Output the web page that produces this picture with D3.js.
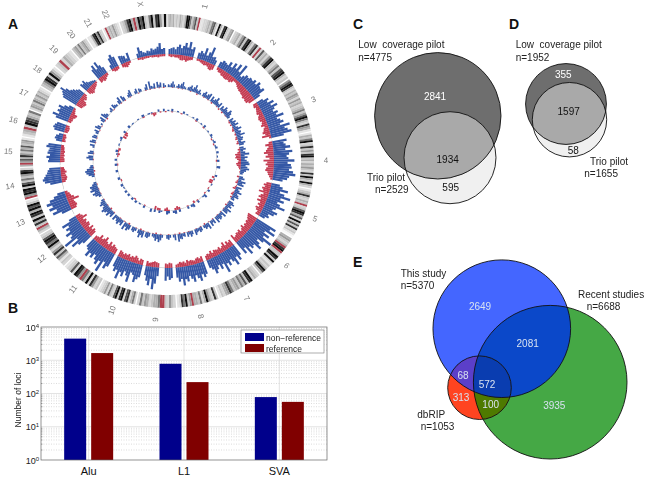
<!DOCTYPE html>
<html><head><meta charset="utf-8">
<script src="https://cdnjs.cloudflare.com/ajax/libs/d3/7.8.5/d3.min.js"></script>
<style>html,body{margin:0;background:#fff}svg{display:block}text{font-family:"Liberation Sans",Arial,sans-serif;white-space:pre}</style>
</head><body><svg id="c" width="650" height="480"></svg>
<script>
const chromNames=["1","2","3","4","5","6","7","8","9","10","11","12","13","14","15","16","17","18","19","20","21","22","X"];
const chromSizes=[27,27.9,22,22,20,18.5,18,16.5,15.5,15.5,15.5,15,14,12.5,11.5,10.5,9.5,9,8.5,7,6.5,6.5,18.5];
const ideogramBands=[
"343423243249963573r1122343673194189324 5","23425738942 682r27342589324637894 23","5798324354253423463579632 8541","14369238353893424353283943942","13483243r23798472937382310","453 24r89r33983921324973","234298374635436854231","382359426344r5396821","2352 3rr6443245362","26428729839723625321","32582936r589273 21","23147385249689732","24r3849389497931","r5989397363598 2","4r574853647345 1","134r3987436","254364353421","3469839531","23r24321","3453634532","114895832","1r3435321","23589 4r497932693895 29"].map(s=>s.replace(/ /g,""));
const t1Blue=[[6,7,8,6,9,12,8,11,15,10,17,9,12,0,0,7,10,8,15,7,12,19,8,9,6],[7,10,9,8,13,8,15,10,17,9,20,6,9,12,11,13,12,15,12,17,14,13,16,8],[8,14,11,18,13,20,15,12,17,14,22,13,16,19,14,25,18,21,25,15],[17,13,15,20,14,22,18,15,17,24,16,20,21,18,23,26,19,17,12],[10,14,21,12,18,26,15,20,13,17,24,14,11,18,15,9,11,7],[26,20,28,16,24,18,31,22,15,20,25,16,18,14,22,11,17],[14,19,13,22,16,12,18,14,24,12,17,11,15,19,13,10],[15,18,14,21,17,13,20,16,12,18,15,22,14,17,12],[12,14,10,15,0,0,0,10,19,26,14,22,17,11],[15,18,22,14,12,24,17,13,20,16,25,15,18,13],[17,21,14,28,16,22,18,13,19,15,21,14,12],[12,17,24,14,30,19,16,22,15,18,13,20,9],[0,0,12,22,16,24,19,25,20,14,9],[0,0,0,14,20,22,20,18,16,15,13],[0,14,13,16,12,15,14,13,17,15],[7,9,8,5,0,12,14,13,11],[15,20,13,16,14,17,11,6],[18,20,22,26,20,15,13,10,8],[10,8,11,7,5,4,3,2],[13,17,10,18,12,8],[0,5,13,16,12],[10,9,8,4,10],[0,0,5,12,7,5,4,6,5,8,6,7,9,13,6,7]];
const t1Red=[[3,4,3,4,4,5,7,7,6,8,6,5,4,0,0,3,3,4,5,6,5,6,8,9,7],[4,6,6,8,8,9,9,8,9,7,4,4,5,7,8,9,9,10,10,12,11,12,12,9],[6,7,5,6,7,8,6,8,9,8,6,7,9,5,7,8,10,7,12,3],[5,10,6,8,10,13,8,11,6,14,9,11,8,10,11,8,7,5,3],[7,10,8,11,9,14,7,10,12,8,12,7,9,6,10,8,5,6],[14,13,12,10,11,9,10,8,12,9,7,11,9,10,8,7,12],[9,7,10,6,12,8,6,9,7,8,9,6,10,7,8,6],[8,6,8,7,5,6,7,6,8,5,7,6,7,5,4],[6,7,5,6,0,0,0,6,7,8,7,6,5,7],[7,8,5,8,10,7,8,6,9,7,8,6,8,9],[8,9,11,8,12,7,9,14,10,8,12,7,6],[9,11,8,12,7,10,11,8,10,7,14,9,7],[0,0,8,10,9,8,16,10,7,6,4],[0,0,0,5,7,8,7,6,8,6,5],[0,6,6,5,6,5,6,5,5,4],[5,4,5,4,0,5,6,6,5],[5,6,6,8,9,5,4,3],[9,10,11,12,10,6,8,7,5],[7,9,10,8,7,6,5,3],[7,6,8,7,5,4],[0,3,5,5,4],[5,6,7,5,3],[0,0,3,3,4,3,3,3,2,3,3,3,4,3,3,3]];
const t2Blue=[[3,2,4,6,3,0,2,4,3,5,7,3,2,0,3,4,6,3,5,8,4,3,5,2],[4,6,3,5,7,0,6,3,5,8,4,3,6,0,5,3,7,5,4,8,6,3],[5,3,6,4,7,3,5,8,4,6,5,9,4,6,5,3,7,5],[4,6,3,5,9,4,7,4,6,8,9,5,7,9,6,4,3],[4,6,3,8,5,7,0,6,3,5,8,4,6,7,3,4],[5,7,4,6,3,8,5,6,0,7,3,5,6,4,7],[5,3,6,0,7,4,5,3,0,4,5,3,4,6],[4,6,3,5,0,4,3,6,5,8,0,6,3],[3,5,4,0,0,3,6,8,5,7,4,3],[4,6,5,0,7,5,8,4,0,3,5,4],[5,7,4,8,0,6,4,7,5,3,6],[6,4,8,5,7,9,6,4,7,5,3],[0,3,6,8,5,9,7,8,5,3],[0,0,3,6,8,9,7,4,3],[0,0,4,7,5,0,6,4,0],[2,5,0,6,4,0,5,4],[3,5,0,6,4,0,2],[4,6,0,7,5,3,0],[2,4,0,5,3,2],[4,7,0,6,4],[0,3,5,7,0],[3,5,0,4,3],[0,3,6,0,8,3,2,5,0,6,3,5,0,4,2]];
const t2Red=[[0,0,0,1,0,0,0,1,0,0,1,0,0,0,0,0,1,0,0,0,0,2,0,0],[0,1,0,0,1,0,0,2,0,0,0,1,0,2,0,0,2,0,0,1,0,0],[1,2,0,2,0,1,2,3,0,1,2,0,2,3,0,2,3,0],[1,3,2,4,7,6,7,5,3,4,6,5,3,2,0,1,0],[3,0,1,2,3,0,1,2,4,0,1,2,3,0,2,0],[0,1,0,2,0,0,1,0,0,1,0,0,1,0,0],[1,0,0,1,0,0,2,0,0,1,0,0,1,0],[0,0,1,0,0,1,0,0,2,0,0,1,0],[0,1,0,0,0,0,1,0,0,2,0,1],[0,1,0,0,1,0,2,0,0,1,0,0],[0,2,0,0,1,0,0,1,0,0,0],[1,0,0,2,0,0,1,0,0,0,1],[0,0,1,0,0,1,0,0,1,0],[0,0,0,1,0,2,0,1,0],[0,0,1,0,0,0,1,0,0],[0,0,0,1,0,0,1,0],[0,0,1,0,0,1,0],[0,1,0,2,0,0,0],[0,0,1,0,0,0],[0,1,0,0,1],[0,0,1,0,0],[0,0,1,0,0],[0,1,0,0,1,0,0,1,0,0,1,0,0,1,0]];
const t3Blue=[[1,0,2,0,0,1,0,0,2,0,1,0],[0,1,0,2,0,0,1,0,2,0,0,1],[0,2,1,0,1,2,0,1,2,0],[2,0,1,0,2,0,0,3,0],[0,0,2,0,1,0,0,1,0],[0,2,0,0,3,1,0,0],[2,0,0,3,2,0,2,0],[0,0,2,0,3,2,0],[2,3,0,0,1,2,0],[2,0,3,0,0,0,2],[0,1,0,2,0,2],[0,2,0,2,0,1],[2,0,0,2,0],[0,2,0,0,2],[0,2,0,0,1],[2,0,0,1],[0,1,2,0],[0,2,0,0],[2,0,1],[0,0,1],[0,2],[0,1],[1,0,0,0,2,0,0,2,0]];
const t3Red=[[0,0,1,0,0,0,0,1,0,0,0,0],[0,0,0,1,0,0,0,0,1,0,0,0],[0,0,0,1,0,0,1,0,0,0],[0,0,0,0,1,0,0,0,0],[0,0,0,2,0,3,3,0,0],[1,0,0,1,0,0,0,0],[1,0,2,0,0,0,1,0],[0,0,2,3,2,0,0],[1,3,2,0,0,2,2],[3,0,0,0,0,0,1],[0,0,0,0,1,0],[0,0,0,0,0,0],[0,0,1,0,0],[0,0,0,0,1],[0,0,0,1,2],[1,2,0,0],[0,0,0,3],[3,2,0,0],[0,0,0],[0,0,0],[0,1],[0,0],[1,3,2,0,0,1,0,0,1]];
const barCategories=["Alu","L1","SVA"];
const nonReference=[4470,784,78];
const reference=[1645,220,56];
const legendLabels=["non\u2212reference","reference"];
const yTicks=[1,10,100,1000,10000];
const vennCCounts=[2841,1934,595], vennCTotals=[4775,2529];
const vennDCounts=[355,1597,58], vennDTotals=[1952,1655];
const vennECounts=[2649,2081,68,572,313,100,3935], vennETotals=[5370,6688,1053];

const svg=d3.select("#c");
const TAU=Math.PI*2;
const defs=svg.append("defs");
defs.append("filter").attr("id","soft").attr("x","-5%").attr("y","-5%").attr("width","110%").attr("height","110%").append("feGaussianBlur").attr("stdDeviation",0.3);
[["A",8,29],["B",8,313],["C",353,29],["D",509,29],["E",353,267]].forEach(p=>
 svg.append("text").attr("x",p[1]).attr("y",p[2]).attr("font-size",14).attr("font-weight","bold").attr("fill","#111").text(p[0]));

const cx=167,cy=161,rOut=147,rIn=134;
const g=svg.append("g").attr("transform",`translate(${cx},${cy})`).attr("filter","url(#soft)");
const gap=0.55,total=d3.sum(chromSizes)+gap*chromSizes.length;
const ang=d3.scaleLinear().domain([0,total]).range([0,TAU]);
let pos=0.2;const chroms=chromSizes.map((s,i)=>{const o={i,start:pos,size:s};pos+=s+gap;return o;});
const arc=d3.arc();
const stain=d3.scaleLinear().domain([0,1,3,5,7,9]).range(["#f8f8f8","#e4e4e4","#c6c6c6","#9a9a9a","#585858","#0a0a0a"]);
chroms.forEach(c=>{
 const bands=ideogramBands[c.i].split("");const w=c.size/bands.length;
 bands.forEach((b,j)=>{
  g.append("path").attr("d",arc({innerRadius:rIn,outerRadius:rOut,startAngle:ang(c.start+j*w),endAngle:ang(c.start+(j+1)*w+0.03)}))
   .attr("fill",b==="r"?"#ad3f4e":stain(+b));
 });
 const mid=(c.start+c.size/2)/total*360;
 const rot=mid<180?mid-90:mid+90;
 g.append("text").attr("transform",`rotate(${mid-90}) translate(159,0) rotate(${rot-(mid-90)})`)
  .attr("text-anchor","middle").attr("dy","0.35em").attr("font-size",8).attr("fill","#777").text(chromNames[c.i]);
});
function track(r0,blue,red,kb,kr,inset){
 const hb=d3.scaleLinear().domain([0,30]).range([0,30*kb]);
 const hr=d3.scaleLinear().domain([0,30]).range([0,30*kr]);
 chroms.forEach(c=>{
  g.append("path").attr("d",arc({innerRadius:r0-0.25,outerRadius:r0+0.25,startAngle:ang(c.start),endAngle:ang(c.start+c.size)})).attr("fill","#b5b5b5");
  const s=c.start+inset,span=c.size-2*inset;
  const draw=(arr,col,dir,h)=>{const w=span/arr.length;
   arr.forEach((v,j)=>{ if(!v) return;
    g.append("path").attr("d",arc({innerRadius:dir>0?r0:r0-h(v),outerRadius:dir>0?r0+h(v):r0,startAngle:ang(s+j*w),endAngle:ang(s+(j+1.02)*w)})).attr("fill",col);
   });};
  draw(red[c.i],"#c43c52",-1,hr);draw(blue[c.i],"#3659a6",1,hb);
 });
}
track(107,t1Blue,t1Red,.85,.75,.6);
track(74,t2Blue,t2Red,.95,.8,.4);
track(50,t3Blue,t3Red,1.2,1.2,.2);

const plot={l:41,r:327,t:327,b:460};
const B=svg.append("g");
const y=d3.scaleLog().domain([1,10000]).range([plot.b,plot.t]);
const x0=d3.scaleBand().domain(barCategories).range([plot.l,plot.r]);
const minor=[];yTicks.slice(0,-1).forEach(t=>d3.range(2,10).forEach(m=>minor.push(t*m)));
const centre=c=>x0(c)+x0.bandwidth()/2;
B.selectAll(".m").data(minor).join("line").attr("x1",plot.l).attr("x2",plot.r).attr("y1",d=>y(d)).attr("y2",d=>y(d)).attr("stroke","#c4c4c4").attr("stroke-width",.6).attr("stroke-dasharray","1,1.5");
B.selectAll(".mj").data(yTicks.slice(1,-1)).join("line").attr("x1",plot.l).attr("x2",plot.r).attr("y1",d=>y(d)).attr("y2",d=>y(d)).attr("stroke","#d0d0d0").attr("stroke-width",.6);
B.selectAll(".v").data(barCategories).join("line").attr("x1",centre).attr("x2",centre).attr("y1",plot.t).attr("y2",plot.b).attr("stroke","#d0d0d0").attr("stroke-width",.6);
const bw=22;
barCategories.forEach((c,i)=>{
 const m=centre(c);
 B.append("rect").attr("x",m-2.5-bw).attr("y",y(nonReference[i])).attr("width",bw).attr("height",plot.b-y(nonReference[i])).attr("fill","#00008b");
 B.append("rect").attr("x",m+2.5).attr("y",y(reference[i])).attr("width",bw).attr("height",plot.b-y(reference[i])).attr("fill","#800000");
});
B.append("rect").attr("x",plot.l).attr("y",plot.t).attr("width",plot.r-plot.l).attr("height",plot.b-plot.t).attr("fill","none").attr("stroke","#666").attr("stroke-width",.7);
B.selectAll(".tk").data(minor).join("line").attr("x1",plot.l).attr("x2",plot.l+1.5).attr("y1",d=>y(d)).attr("y2",d=>y(d)).attr("stroke","#666").attr("stroke-width",.5);
const yAxis=B.append("g").attr("transform",`translate(${plot.l},0)`).call(d3.axisLeft(y).tickValues(yTicks).tickSize(0).tickFormat(()=>""));
yAxis.select(".domain").remove();
yAxis.selectAll(".tick").each(function(d){
 const t=d3.select(this).append("text").attr("x",-2).attr("dy","0.35em").attr("text-anchor","end").attr("fill","#222").attr("font-size",9).attr("font-family","'Liberation Sans'");
 t.append("tspan").text("10");t.append("tspan").attr("dy","-3").attr("font-size",6).text(Math.round(Math.log10(d)));
});
const xAxis=B.append("g").attr("transform",`translate(0,${plot.b})`).call(d3.axisBottom(x0).tickSize(0));
xAxis.select(".domain").remove();
xAxis.selectAll("text").attr("font-size",11).attr("fill","#111").attr("font-family","'Liberation Sans'").attr("y",7);
B.append("text").attr("transform","translate(21,400) rotate(-90)").attr("text-anchor","middle").attr("font-size",8.5).attr("fill","#222").text("Number of loci");
B.append("rect").attr("x",241).attr("y",330).attr("width",83).attr("height",23).attr("fill","#fff").attr("stroke","#777").attr("stroke-width",.6);
legendLabels.forEach((l,i)=>{
 B.append("rect").attr("x",245).attr("y",333+i*11).attr("width",19).attr("height",8).attr("fill",i?"#800000":"#00008b");
 B.append("text").attr("x",266).attr("y",340.5+i*11).attr("font-size",8.5).attr("fill","#222").text(l);
});

let uid=0;
function clipFor(c){const id="cl"+(uid++);defs.append("clipPath").attr("id",id).append("circle").attr("cx",c.x).attr("cy",c.y).attr("r",c.r);return id;}
function region(parent,cs,fill){
 let g0=parent;
 cs.slice(1).forEach(c=>{g0=g0.append("g").attr("clip-path",`url(#${clipFor(c)})`);});
 g0.append("circle").attr("cx",cs[0].x).attr("cy",cs[0].y).attr("r",cs[0].r).attr("fill",fill);
}
function label(t,x,y,col,a){svg.append("text").attr("x",x).attr("y",y).attr("font-size",10).attr("fill",col||"#222").attr("text-anchor",a||"start").text(t);}
function num(t,x,y,col){svg.append("text").attr("x",x).attr("y",y).attr("dy","0.35em").attr("font-size",10).attr("fill",col).attr("text-anchor","middle").text(t);}
const rCD=d3.scaleSqrt().domain([0,4775]).range([0,63.2]);
const rE=d3.scaleSqrt().domain([0,6688]).range([0,76.8]);
function outlines(cs){cs.forEach(c=>svg.append("circle").attr("cx",c.x).attr("cy",c.y).attr("r",c.r).attr("fill","none").attr("stroke","#111").attr("stroke-width",.9));}

const C=[{x:437.8,y:115.8,r:rCD(vennCTotals[0])},{x:450,y:157.7,r:rCD(vennCTotals[1])}];
region(svg,[C[1]],"#f0f0f0");region(svg,[C[0]],"#6e6e6e");region(svg,[C[0],C[1]],"#a9a9a9");outlines(C);
num(vennCCounts[0],435,96,"#fff");num(vennCCounts[1],447.7,159,"#111");num(vennCCounts[2],450.7,187,"#111");
label("Low  coverage pilot",358.3,48);label("n="+vennCTotals[0],358.3,61);label("Trio pilot",367,181);label("n="+vennCTotals[1],375,193);

const D=[{x:566,y:104,r:rCD(vennDTotals[0])},{x:569.5,y:119.7,r:rCD(vennDTotals[1])}];
region(svg,[D[1]],"#f0f0f0");region(svg,[D[0]],"#6e6e6e");region(svg,[D[0],D[1]],"#a9a9a9");outlines(D);
num(vennDCounts[0],563.3,74,"#fff");num(vennDCounts[1],568.7,111.7,"#111");num(vennDCounts[2],573.3,150.7,"#111");
label("Low  coverage pilot",515.7,48);label("n="+vennDTotals[0],515.7,61);label("Trio pilot",590,165);label("n="+vennDTotals[1],584.3,177);

const E=[{x:501.8,y:328.7,r:rE(vennETotals[0])},{x:550.2,y:382.2,r:rE(vennETotals[1])},{x:479.5,y:387.7,r:31.8}];
region(svg,[E[1]],"#45a845");region(svg,[E[2]],"#ff4420");region(svg,[E[0]],"#4466ff");
region(svg,[E[0],E[1]],"#0b48c9");region(svg,[E[2],E[1]],"#4e7a00");region(svg,[E[0],E[2]],"#5b3fc9");region(svg,[E[0],E[1],E[2]],"#0a3db0");outlines(E);
const pale="#d8e2f0";
[[0,480,306.7],[1,527.7,343.3],[2,463,375.7],[3,487,384.3],[4,461,397.3],[5,490.7,404.3],[6,554.3,405.7]].forEach(p=>num(vennECounts[p[0]],p[1],p[2],pale));
label("This study",400.7,277);label("n="+vennETotals[0],400.7,289);label("Recent studies",578,298);label("n="+vennETotals[1],586.7,310);label("dbRIP",417.3,417.7);label("n="+vennETotals[2],420.7,430);
</script></body></html>
